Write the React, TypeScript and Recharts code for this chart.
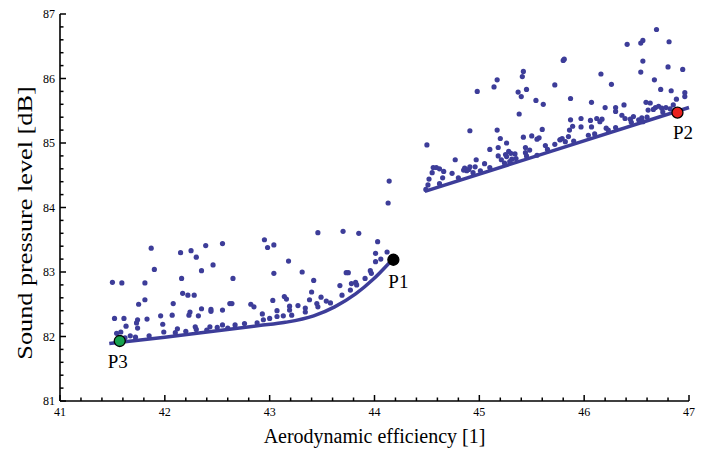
import React from "react";
import { ComposedChart, XAxis, YAxis, Scatter, Line, Label } from "recharts";

type Pt = [number, number];

const SERIF = "'Liberation Serif', 'Times New Roman', serif";
const BLUE = "#3d3d99";

// axis labels (minor ticks every 0.2 are added between them)
const xMajorTicks = [41, 42, 43, 44, 45, 46, 47];
const yMajorTicks = [81, 82, 83, 84, 85, 86, 87];

// designs around P3 / P1 (aerodynamic efficiency, SPL)
const lowerCloud: Pt[] = [
  [41.87, 83.37], [42.15, 83.3], [42.25, 83.33], [42.3, 83.23], [42.39, 83.41], [42.55, 83.44],
  [41.9, 83.04], [42.35, 83.02], [42.46, 83.11], [42.16, 82.9], [42.65, 82.9], [41.5, 82.84],
  [41.59, 82.83], [41.81, 82.83], [42.17, 82.67], [42.22, 82.64], [42.28, 82.64], [41.81, 82.57],
  [41.75, 82.5], [42.08, 82.51], [42.35, 82.43], [42.44, 82.42], [42.55, 82.41], [42.62, 82.51],
  [42.64, 82.51], [42.82, 82.5], [42.85, 82.46], [41.52, 82.28], [41.61, 82.28], [41.74, 82.26],
  [41.73, 82.21], [41.83, 82.27], [41.96, 82.32], [42.07, 82.33], [42.24, 82.38], [42.23, 82.33],
  [42.32, 82.32], [42.44, 82.39], [41.63, 82.16], [41.74, 82.13], [41.98, 82.19], [42.12, 82.12],
  [42.29, 82.15], [42.43, 82.15], [42.55, 82.18], [41.58, 82.07], [41.54, 82.05], [41.67, 82.01],
  [41.62, 81.98], [41.72, 81.99], [41.85, 82.01], [41.99, 82.07], [42.1, 82.06], [42.2, 82.08],
  [42.3, 82.11], [42.4, 82.1], [42.5, 82.14], [42.6, 82.13], [42.67, 82.18], [42.76, 82.2],
  [42.88, 82.21], [42.95, 83.5], [42.98, 83.38], [43.04, 83.42], [43.46, 83.61], [43.7, 83.63],
  [43.85, 83.6], [44.03, 83.47], [44.01, 83.29], [44.12, 83.31], [44.01, 83.16], [44.06, 83.2],
  [43.18, 83.17], [43.04, 82.98], [43.31, 83.0], [43.42, 82.87], [43.73, 82.99], [43.75, 82.99],
  [43.96, 83.02], [43.67, 82.79], [43.4, 82.69], [43.14, 82.62], [43.16, 82.58], [43.03, 82.56],
  [43.38, 82.57], [43.49, 82.61], [43.27, 82.48], [43.19, 82.47], [43.19, 82.41], [43.07, 82.4],
  [42.93, 82.35], [43.34, 82.44], [43.78, 82.82], [43.82, 82.84], [43.54, 82.55], [43.45, 82.51],
  [42.94, 82.26], [43.0, 82.28], [43.07, 82.31], [43.13, 82.32], [43.21, 82.33], [43.34, 82.38],
  [43.46, 82.46], [43.58, 82.52], [43.69, 82.64], [43.77, 82.72], [43.83, 82.8], [43.91, 82.9],
  [43.97, 82.98], [44.14, 84.41], [44.13, 84.07],
];

// designs around P2
const upperCloud: Pt[] = [
  [44.5, 84.97], [44.98, 85.8], [45.14, 85.87], [45.17, 85.98], [45.42, 86.11], [45.41, 86.03],
  [45.37, 85.79], [45.4, 85.72], [45.45, 85.83], [45.72, 85.9], [45.54, 85.66], [45.61, 85.6],
  [45.38, 85.45], [44.91, 85.19], [45.17, 85.2], [45.6, 85.21], [45.2, 85.07], [45.42, 85.09],
  [45.5, 85.11], [45.55, 85.06], [45.57, 85.08], [45.26, 85.0], [45.1, 84.9], [45.18, 84.93],
  [45.44, 84.93], [45.63, 84.96], [45.72, 84.98], [45.77, 85.05], [45.25, 84.82], [45.28, 84.87],
  [45.3, 84.84], [45.34, 84.83], [45.26, 84.79], [45.31, 84.75], [45.35, 84.76], [45.44, 84.85],
  [45.18, 84.8], [45.21, 84.74], [44.77, 84.74], [44.97, 84.74], [45.05, 84.68], [44.86, 84.61],
  [44.9, 84.59], [44.88, 84.57], [44.85, 84.58], [44.91, 84.63], [44.96, 84.63], [45.01, 84.57],
  [44.94, 84.54], [44.56, 84.62], [44.59, 84.62], [44.62, 84.6], [44.66, 84.56], [44.55, 84.54],
  [44.52, 84.44], [44.51, 84.35], [44.65, 84.46], [44.74, 84.53], [45.24, 84.69], [45.29, 84.71],
  [45.55, 84.81], [45.48, 84.89], [44.49, 84.28], [46.69, 86.76], [46.41, 86.53], [46.54, 86.55],
  [46.56, 86.59], [46.81, 86.57], [45.8, 86.28], [45.81, 86.3], [46.56, 86.27], [46.16, 86.07],
  [46.54, 86.1], [46.8, 86.18], [46.94, 86.14], [46.26, 85.91], [46.67, 85.98], [46.73, 85.83],
  [46.83, 85.81], [46.96, 85.78], [46.96, 85.72], [46.88, 85.68], [45.87, 85.69], [46.07, 85.63],
  [46.2, 85.55], [46.3, 85.55], [46.3, 85.49], [46.38, 85.59], [46.59, 85.63], [46.63, 85.62],
  [46.68, 85.55], [46.71, 85.57], [46.74, 85.54], [46.78, 85.55], [46.82, 85.53], [46.61, 85.51],
  [46.66, 85.52], [46.85, 85.59], [45.87, 85.36], [45.89, 85.26], [45.86, 85.2], [45.97, 85.38],
  [45.97, 85.25], [46.06, 85.35], [46.07, 85.25], [46.12, 85.38], [46.17, 85.37], [46.15, 85.33],
  [46.21, 85.23], [46.23, 85.2], [46.36, 85.43], [46.39, 85.38], [46.44, 85.37], [46.47, 85.41],
  [46.52, 85.36], [46.55, 85.39], [46.56, 85.33], [46.04, 85.12], [45.85, 85.1], [45.79, 85.07],
  [45.82, 85.02], [45.77, 85.05], [44.62, 84.37], [44.8, 84.46], [45.1, 84.62], [45.45, 84.8],
  [45.65, 84.9], [45.9, 85.03], [46.1, 85.14], [46.3, 85.24], [46.45, 85.32], [46.6, 85.4],
  [46.75, 85.48],
];

// Pareto fronts
const lowerFront: Pt[] = [
  [41.47, 81.89], [42.0, 81.99], [42.5, 82.09], [42.9, 82.17], [43.15, 82.22],
  [43.42, 82.32], [43.62, 82.46], [43.82, 82.66], [43.99, 82.89], [44.14, 83.14],
];
const upperFront: Pt[] = [[44.48, 84.25], [47.0, 85.55]];

const highlightNames = ["P3", "P1", "P2"];
const highlightValues: Pt[] = [[41.57, 81.93], [44.18, 83.19], [46.89, 85.47]];

const highlightStyle: Record<string, { fill: string; stroke: string; r: number; dx: number; dy: number }> = {
  P1: { fill: "#000000", stroke: "#000000", r: 5.5, dx: 5, dy: 28 },
  P2: { fill: "#e8201e", stroke: "#000000", r: 5.5, dx: 5.5, dy: 26 },
  P3: { fill: "#17a24f", stroke: "#000000", r: 5.5, dx: -2, dy: 27 },
};

const toObj = (pts: Pt[]) => pts.map(([x, y]) => ({ x, y }));

const withMinor = (major: number[]) => {
  const out: number[] = [];
  for (let i = 0; i < major.length - 1; i++) {
    for (let k = 0; k < 5; k++) out.push(+(major[i] + k * 0.2).toFixed(1));
  }
  out.push(major[major.length - 1]);
  return out;
};

const xTicks = withMinor(xMajorTicks);
const yTicks = withMinor(yMajorTicks);

const XTick = ({ x, y, payload }: any) => {
  const major = Number.isInteger(payload.value);
  return (
    <g>
      <line x1={x} x2={x} y1={y} y2={y - (major ? 6 : 3.5)} stroke="#000" strokeWidth={1.5} />
      {major && (
        <text x={x} y={y + 15} textAnchor="middle" fontSize={12} fontFamily={SERIF} fill="#000">
          {payload.value}
        </text>
      )}
    </g>
  );
};

const YTick = ({ x, y, payload }: any) => {
  const major = Number.isInteger(payload.value);
  return (
    <g>
      <line x1={x} x2={x + (major ? 6 : 3.5)} y1={y} y2={y} stroke="#000" strokeWidth={1.5} />
      {major && (
        <text x={x - 5} y={y + 4} textAnchor="end" fontSize={12} fontFamily={SERIF} fill="#000">
          {payload.value}
        </text>
      )}
    </g>
  );
};

const CloudDot = (props: any) => <circle cx={props.cx} cy={props.cy} r={2.6} fill={BLUE} />;

const HighlightDot = (props: any) => {
  const s = highlightStyle[props.payload.name];
  return (
    <g>
      <circle cx={props.cx} cy={props.cy} r={s.r} fill={s.fill} stroke={s.stroke} strokeWidth={1.3} />
      <text x={props.cx + s.dx} y={props.cy + s.dy} textAnchor="middle" fontSize={19} fontFamily={SERIF} fill="#000">
        {props.payload.name}
      </text>
    </g>
  );
};

const XTitle = ({ viewBox }: any) => (
  <text x={viewBox.x + viewBox.width / 2} y={viewBox.y + 42} textAnchor="middle" fontSize={20} fontFamily={SERIF} fill="#000">
    Aerodynamic efficiency [1]
  </text>
);

// the source figure is stretched vertically, so the y title is stretched along its length
const YTitle = () => (
  <text
    transform="translate(25, 223) rotate(-90) scale(1.25, 1)"
    textAnchor="middle"
    dominantBaseline="central"
    fontSize={21}
    fontFamily={SERIF}
    fill="#000"
  >
    Sound pressure level [dB]
  </text>
);

export default function App() {
  const highlights = highlightValues.map(([x, y], i) => ({ x, y, name: highlightNames[i] }));
  return (
    <div style={{ position: "absolute", left: 0, top: 0, width: 710, height: 452, background: "#fff" }}>
      <ComposedChart width={710} height={452} margin={{ top: 14, right: 21, left: 0, bottom: 0 }}>
        <XAxis
          type="number"
          dataKey="x"
          domain={[41, 47]}
          ticks={xTicks}
          interval={0}
          tickSize={0}
          tickMargin={0}
          tickLine={false}
          tick={<XTick />}
          height={51}
          axisLine={{ stroke: "#000", strokeWidth: 1.6 }}
        >
          <Label content={<XTitle />} />
        </XAxis>
        <YAxis
          type="number"
          dataKey="y"
          domain={[81, 87]}
          ticks={yTicks}
          interval={0}
          tickSize={0}
          tickMargin={0}
          tickLine={false}
          tick={<YTick />}
          width={60}
          axisLine={{ stroke: "#000", strokeWidth: 1.6 }}
        >
          <Label content={<YTitle />} />
        </YAxis>
        <Scatter data={toObj(lowerCloud)} shape={<CloudDot />} isAnimationActive={false} />
        <Scatter data={toObj(upperCloud)} shape={<CloudDot />} isAnimationActive={false} />
        <Line data={toObj(lowerFront)} dataKey="y" type="monotone" stroke={BLUE} strokeWidth={3.5} dot={false} isAnimationActive={false} />
        <Line data={toObj(upperFront)} dataKey="y" type="linear" stroke={BLUE} strokeWidth={3.5} dot={false} isAnimationActive={false} />
        <Scatter data={highlights} shape={<HighlightDot />} isAnimationActive={false} />
      </ComposedChart>
    </div>
  );
}
